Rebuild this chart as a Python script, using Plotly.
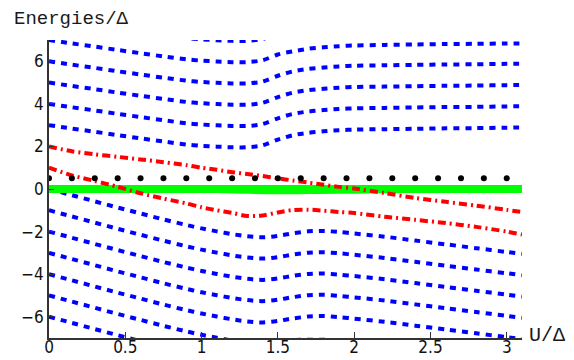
import plotly.graph_objects as go

# Coupling grid U/Δ shared by all level curves
u = [0, 0.15, 0.3, 0.45, 0.6, 0.75, 0.9, 1.0, 1.1, 1.2, 1.3, 1.4, 1.5, 1.6,
     1.7, 1.8, 1.9, 2.0, 2.2, 2.4, 2.6, 2.8, 3.0, 3.1]

# Upper ladder of levels (blue)
level_p8 = [8.00, 7.84, 7.69, 7.53, 7.38, 7.23, 7.09, 7.03, 6.99, 6.96, 6.96, 7.05,
            7.32, 7.53, 7.64, 7.71, 7.76, 7.79, 7.81, 7.83, 7.85, 7.86, 7.88, 7.88]
level_p7 = [7.00, 6.84, 6.69, 6.53, 6.38, 6.23, 6.09, 6.03, 5.99, 5.96, 5.96, 6.05,
            6.32, 6.47, 6.59, 6.66, 6.71, 6.74, 6.77, 6.79, 6.81, 6.82, 6.84, 6.84]
level_p6 = [6.00, 5.84, 5.69, 5.53, 5.38, 5.23, 5.09, 5.03, 4.99, 4.96, 4.96, 5.05,
            5.32, 5.53, 5.64, 5.71, 5.76, 5.79, 5.81, 5.83, 5.85, 5.86, 5.88, 5.88]
level_p5 = [5.00, 4.84, 4.69, 4.53, 4.38, 4.23, 4.09, 4.03, 3.99, 3.96, 3.96, 4.05,
            4.32, 4.53, 4.64, 4.71, 4.76, 4.79, 4.81, 4.83, 4.85, 4.86, 4.88, 4.89]
level_p4 = [4.00, 3.84, 3.69, 3.53, 3.38, 3.23, 3.09, 3.03, 2.99, 2.96, 2.96, 3.05,
            3.32, 3.53, 3.64, 3.71, 3.76, 3.79, 3.81, 3.83, 3.85, 3.86, 3.88, 3.89]
level_p3 = [3.00, 2.84, 2.69, 2.53, 2.38, 2.23, 2.09, 2.03, 1.99, 1.96, 1.96, 2.05,
            2.32, 2.53, 2.64, 2.71, 2.76, 2.79, 2.81, 2.83, 2.85, 2.86, 2.88, 2.89]

# Lower ladder of levels (blue)
level_0 = [0.00, -0.29, -0.58, -0.87, -1.15, -1.43, -1.69, -1.85, -1.99, -2.12, -2.22, -2.27,
           -2.20, -2.08, -1.99, -1.97, -2.02, -2.09, -2.24, -2.42, -2.60, -2.78, -2.96, -3.05]
level_m1 = [-1.00, -1.29, -1.58, -1.87, -2.15, -2.43, -2.69, -2.85, -2.99, -3.12, -3.22, -3.27,
            -3.20, -3.08, -2.99, -2.97, -3.02, -3.09, -3.24, -3.42, -3.60, -3.78, -3.96, -4.05]
level_m2 = [-2.00, -2.29, -2.58, -2.87, -3.15, -3.43, -3.69, -3.85, -3.99, -4.12, -4.22, -4.27,
            -4.20, -4.08, -3.99, -3.97, -4.02, -4.09, -4.24, -4.42, -4.60, -4.78, -4.96, -5.05]
level_m3 = [-3.00, -3.29, -3.58, -3.87, -4.15, -4.43, -4.69, -4.85, -4.99, -5.12, -5.22, -5.27,
            -5.20, -5.08, -4.99, -4.97, -5.02, -5.09, -5.24, -5.42, -5.60, -5.78, -5.96, -6.05]
level_m4 = [-4.00, -4.29, -4.58, -4.87, -5.15, -5.43, -5.69, -5.85, -5.99, -6.12, -6.22, -6.27,
            -6.20, -6.08, -5.99, -5.97, -6.02, -6.09, -6.24, -6.42, -6.60, -6.78, -6.96, -7.05]
level_m5 = [-5.00, -5.29, -5.58, -5.87, -6.15, -6.43, -6.69, -6.85, -6.99, -7.12, -7.22, -7.27,
            -7.20, -7.10, -7.08, -7.08, -7.10, -7.12, -7.24, -7.42, -7.60, -7.78, -7.96, -8.05]
level_m6 = [-6.00, -6.29, -6.58, -6.87, -7.15, -7.43, -7.69, -7.85, -7.99, -8.12, -8.22, -8.27,
            -8.20, -8.08, -7.99, -7.97, -8.02, -8.09, -8.24, -8.42, -8.60, -8.78, -8.96, -9.05]

# The two highlighted levels (red, dash-dot)
red_upper = [2.00, 1.77, 1.63, 1.51, 1.39, 1.26, 1.12, 1.00, 0.90, 0.79, 0.70, 0.61,
             0.50, 0.40, 0.30, 0.20, 0.10, 0.02, -0.19, -0.42, -0.60, -0.78, -0.98, -1.08]
red_lower = [1.00, 0.64, 0.38, 0.10, -0.20, -0.45, -0.68, -0.86, -1.00, -1.12, -1.27, -1.24,
             -1.10, -0.99, -0.97, -1.02, -1.08, -1.13, -1.30, -1.45, -1.60, -1.78, -2.00, -2.14]

# Ground level (green) and its slight split around the avoided crossing
green_u = [0, 3.1]
green_e = [0, 0]
green2_u = [1.1, 1.3, 1.5, 1.7, 1.9, 2.1, 2.3]
green2_e = [0, -0.04, -0.06, -0.05, -0.04, -0.02, 0]

# Reference energy Δ/2 (black dots)
dot_u = [0, 0.15, 0.3, 0.45, 0.6, 0.75, 0.9, 1.05, 1.2, 1.35, 1.5, 1.65, 1.8,
         1.95, 2.1, 2.25, 2.4, 2.55, 2.7, 2.85, 3.0]
dot_e = [0.5] * len(dot_u)

x_ticks = [0, 0.5, 1, 1.5, 2, 2.5, 3]
x_labels = ["0", "0.5", "1", "1.5", "2", "2.5", "3"]
y_ticks = [-6, -4, -2, 0, 2, 4, 6]

BLUE = "#0000ff"
RED = "#ff0000"
GREEN = "#00ff00"

fig = go.Figure()

blue_levels = [level_p8, level_p7, level_p6, level_p5, level_p4, level_p3,
               level_0, level_m1, level_m2, level_m3, level_m4, level_m5, level_m6]
for lv in blue_levels:
    fig.add_trace(go.Scatter(
        x=u, y=lv, mode="lines",
        line=dict(color=BLUE, width=4, dash="6px,6px", shape="spline", smoothing=0.8),
        hoverinfo="skip", showlegend=False))

fig.add_trace(go.Scatter(
    x=green_u, y=green_e, mode="lines",
    line=dict(color=GREEN, width=8), showlegend=False))
fig.add_trace(go.Scatter(
    x=green2_u, y=green2_e, mode="lines",
    line=dict(color=GREEN, width=8, shape="spline"), showlegend=False))

for lv in (red_upper, red_lower):
    fig.add_trace(go.Scatter(
        x=u, y=lv, mode="lines",
        line=dict(color=RED, width=4, dash="8px,4px,2px,4px", shape="spline", smoothing=0.8),
        showlegend=False))

fig.add_trace(go.Scatter(
    x=dot_u, y=dot_e, mode="markers",
    marker=dict(color="black", size=6), showlegend=False))

tick_font = dict(family="Liberation Sans Narrow, Arial Narrow, DejaVu Sans Condensed, sans-serif",
                 size=17, color="#111111")
axis_color = "#333333"

fig.update_layout(
    width=574, height=360,
    margin=dict(l=49, r=52, t=40, b=22, autoexpand=False),
    paper_bgcolor="white", plot_bgcolor="white",
    xaxis=dict(range=[0, 3.1], tickvals=x_ticks, ticktext=x_labels, automargin=False,
               showgrid=False, zeroline=False, showline=True, linecolor=axis_color,
               linewidth=1.5, ticks="inside", ticklen=6, tickcolor=axis_color,
               tickwidth=1, tickfont=tick_font, ticklabelstandoff=-7),
    yaxis=dict(range=[-7, 7], tickvals=y_ticks, automargin=False,
               showgrid=False, zeroline=False, showline=True, linecolor=axis_color,
               linewidth=1.5, ticks="inside", ticklen=5, tickcolor=axis_color,
               tickwidth=1, tickfont=tick_font),
    annotations=[
        dict(text="Energies/Δ", xref="paper", yref="paper", x=-0.078, y=1.069,
             xanchor="left", yanchor="middle", showarrow=False,
             font=dict(family="Liberation Mono, Courier New, monospace", size=19, color="#1a1a1a")),
        dict(text="U/Δ", xref="paper", yref="paper", x=1.0106, y=0.0084,
             xanchor="left", yanchor="middle", showarrow=False,
             font=dict(family="Liberation Mono, Courier New, monospace", size=20, color="#1a1a1a")),
    ],
)

fig.write_html("out.html")
